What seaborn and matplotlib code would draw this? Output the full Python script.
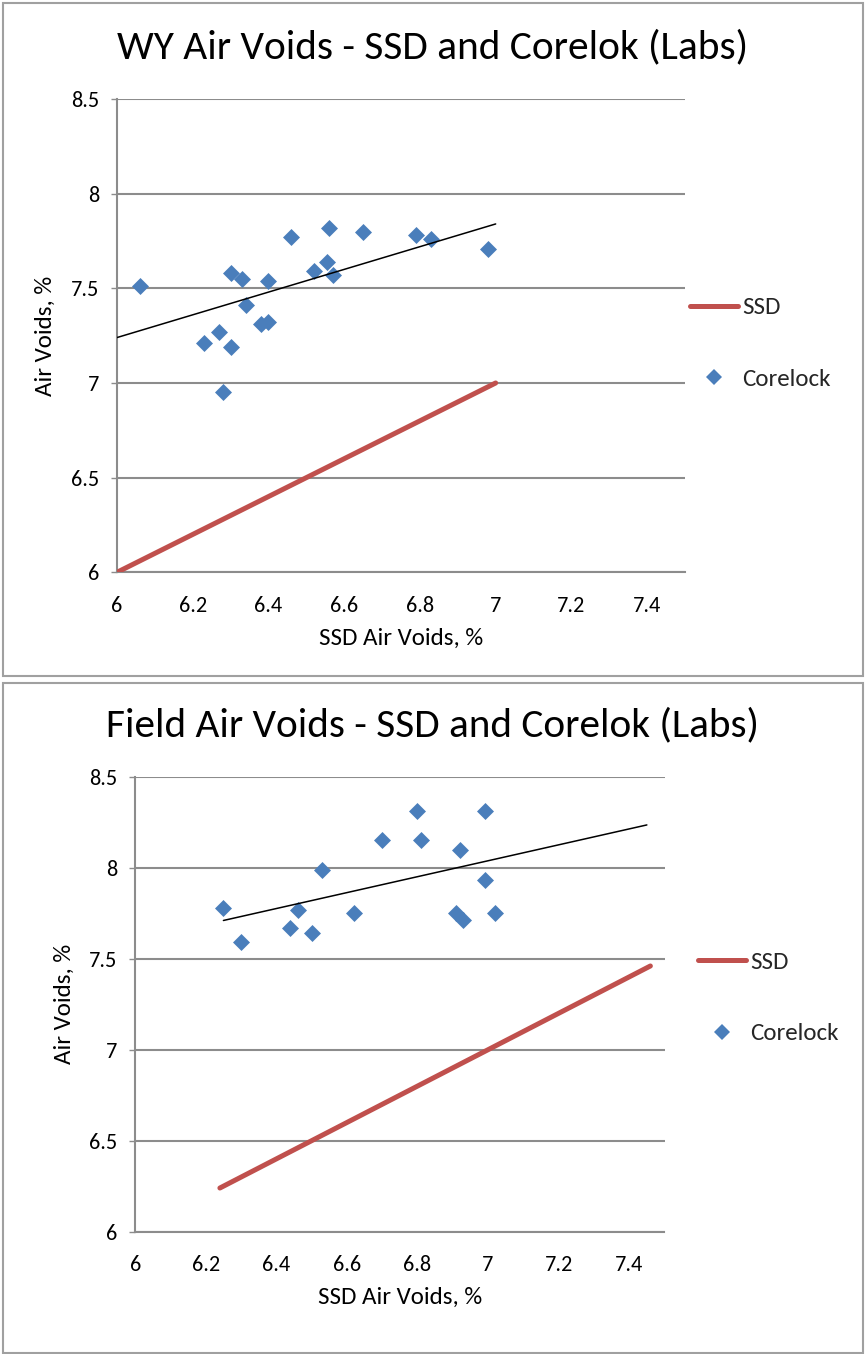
import numpy as np
import pandas as pd
import matplotlib
matplotlib.use("Agg")
import matplotlib.pyplot as plt
from matplotlib import font_manager
from matplotlib.patches import Rectangle
from matplotlib.lines import Line2D
import seaborn as sns

# ---------------- data ----------------
wy_ssd = [6.06, 6.30, 6.33, 6.40, 6.46, 6.56, 6.65, 6.79, 6.83, 6.98,
          6.52, 6.555, 6.57, 6.34, 6.38, 6.40, 6.27, 6.23, 6.30, 6.28]
wy_corelok = [7.51, 7.58, 7.55, 7.54, 7.77, 7.82, 7.80, 7.78, 7.76, 7.71,
              7.59, 7.64, 7.57, 7.41, 7.31, 7.32, 7.27, 7.21, 7.19, 6.95]
wy_ssd_line_x = [6.0, 7.0]
wy_ssd_line_y = [6.0, 7.0]
wy_trend_x = [6.0, 7.0]
wy_trend_y = [7.24, 7.84]

field_ssd = [6.25, 6.30, 6.46, 6.44, 6.50, 6.53, 6.62, 6.70, 6.80, 6.81,
             6.92, 6.99, 6.99, 6.91, 6.93, 7.02]
field_corelok = [7.78, 7.59, 7.77, 7.67, 7.64, 7.99, 7.75, 8.15, 8.31, 8.15,
                 8.10, 8.31, 7.93, 7.75, 7.71, 7.75]
field_ssd_line_x = [6.24, 7.46]
field_ssd_line_y = [6.24, 7.46]
field_trend_x = [6.25, 7.45]
field_trend_y = [7.71, 8.235]

titles = ["WY Air Voids - SSD and Corelok (Labs)",
          "Field Air Voids - SSD and Corelok (Labs)"]
x_ticks = [6.0, 6.2, 6.4, 6.6, 6.8, 7.0, 7.2, 7.4]
x_tick_labels = ["6", "6.2", "6.4", "6.6", "6.8", "7", "7.2", "7.4"]
y_ticks = [6.0, 6.5, 7.0, 7.5, 8.0, 8.5]
y_tick_labels = ["6", "6.5", "7", "7.5", "8", "8.5"]
x_label = "SSD Air Voids, %"
y_label = "Air Voids, %"
series_names = ["SSD", "Corelock"]

# ---------------- style ----------------
sns.set_theme(style="white")
avail = {f.name for f in font_manager.fontManager.ttflist}
main_font = None
for cand in ["Carlito", "Liberation Sans Narrow", "Roboto Condensed",
             "Open Sans Condensed", "Noto Sans Condensed", "DejaVu Sans Condensed"]:
    if cand in avail:
        main_font = cand
        break
if main_font is None:
    conds = sorted(n for n in avail if ("Condensed" in n or "Narrow" in n))
    main_font = conds[0] if conds else ("Roboto" if "Roboto" in avail else "Liberation Sans")
plt.rcParams["font.family"] = [main_font, "DejaVu Sans"]

RED = "#C0504D"
BLUE = "#4A7EBB"
GRAY = "#8C8C8C"
TICK_FS = 16
LABEL_FS = 18
LEG_FS = 18

W, H = 866, 1354
fig = plt.figure(figsize=(W / 100, H / 100), dpi=100)
fig.patch.set_facecolor("white")

def fx(px):
    return px / W

def fy(py):
    return 1 - py / H

# panel boxes
for (x0, y0, x1, y1) in [(3, 3, 863, 676), (3, 683, 863, 1353)]:
    fig.patches.append(Rectangle((fx(x0), fy(y1)), fx(x1 - x0), (y1 - y0) / H,
                                 transform=fig.transFigure, fill=False,
                                 edgecolor="#A0A0A0", linewidth=1.5, zorder=0))

panels = [
    dict(ax=(117, 99, 685, 572.3), title_y=47, title_w=630, ylab_x=45, xlab_y=638,
         leg=(690, 343.5),
         sx=wy_ssd, sy=wy_corelok, lx=wy_ssd_line_x, ly=wy_ssd_line_y,
         tx=wy_trend_x, ty=wy_trend_y, title=titles[0]),
    dict(ax=(135.2, 776.7, 664.5, 1231.7), title_y=725, title_w=653, ylab_x=64, xlab_y=1297,
         leg=(698, 998),
         sx=field_ssd, sy=field_corelok, lx=field_ssd_line_x, ly=field_ssd_line_y,
         tx=field_trend_x, ty=field_trend_y, title=titles[1]),
]

renderer = fig.canvas.get_renderer()

for p in panels:
    l, t, r, b = p["ax"]
    ax = fig.add_axes([fx(l), fy(b), fx(r - l), (b - t) / H])
    ax.set_facecolor("white")

    df_pts = pd.DataFrame({"x": p["sx"], "y": p["sy"]})
    df_ssd = pd.DataFrame({"x": p["lx"], "y": p["ly"]})
    df_tr = pd.DataFrame({"x": p["tx"], "y": p["ty"]})

    sns.lineplot(data=df_ssd, x="x", y="y", ax=ax, color=RED, linewidth=3.6,
                 solid_capstyle="round", zorder=3, label=series_names[0])
    sns.scatterplot(data=df_pts, x="x", y="y", ax=ax, color=BLUE, marker="D",
                    s=75, linewidth=0, zorder=4, label=series_names[1])
    sns.lineplot(data=df_tr, x="x", y="y", ax=ax, color="black", linewidth=1.1,
                 zorder=5, label="_nolegend_")

    ax.set_xlim(6.0, 7.5)
    ax.set_ylim(6.0, 8.5)
    ax.set_xticks(x_ticks)
    ax.set_xticklabels(x_tick_labels)
    ax.set_yticks(y_ticks)
    ax.set_yticklabels(y_tick_labels)
    ax.tick_params(axis="x", length=0, pad=17, labelsize=TICK_FS, colors="black")
    ax.tick_params(axis="y", length=4, width=1, color=GRAY, pad=9,
                   labelsize=TICK_FS, labelcolor="black", left=True)
    ax.yaxis.grid(True, color=GRAY, linewidth=1.5)
    ax.xaxis.grid(False)
    ax.set_axisbelow(True)
    for side in ["top", "right"]:
        ax.spines[side].set_visible(False)
    for side in ["left", "bottom"]:
        ax.spines[side].set_color(GRAY)
        ax.spines[side].set_linewidth(1.5)
    ax.set_xlabel("")
    ax.set_ylabel("")

    # title fitted to the reference width
    tt = fig.text(0.5, fy(p["title_y"]), p["title"], ha="center", va="center",
                  fontsize=30, color="black")
    wpx = tt.get_window_extent(renderer=renderer).width
    tt.set_fontsize(min(40, 30 * p["title_w"] / wpx))

    fig.text(fx((l + r) / 2), fy(p["xlab_y"]), x_label, ha="center", va="center",
             fontsize=LABEL_FS, color="black")
    fig.text(fx(p["ylab_x"]), fy((t + b) / 2), y_label, ha="center", va="center",
             rotation=90, fontsize=LABEL_FS, color="black")

    handles = [Line2D([0], [0], color=RED, linewidth=3.6, solid_capstyle="round"),
               Line2D([0], [0], color=BLUE, marker="D", linestyle="none",
                      markersize=8, markeredgewidth=0)]
    ax.legend(handles, series_names, loc="center left",
              bbox_to_anchor=(fx(p["leg"][0]), fy(p["leg"][1])),
              bbox_transform=fig.transFigure, frameon=False,
              fontsize=LEG_FS, handlelength=1.9, handletextpad=0.2,
              labelspacing=2.0, borderpad=0, borderaxespad=0)

fig.savefig("out.png", dpi=100, facecolor="white")
